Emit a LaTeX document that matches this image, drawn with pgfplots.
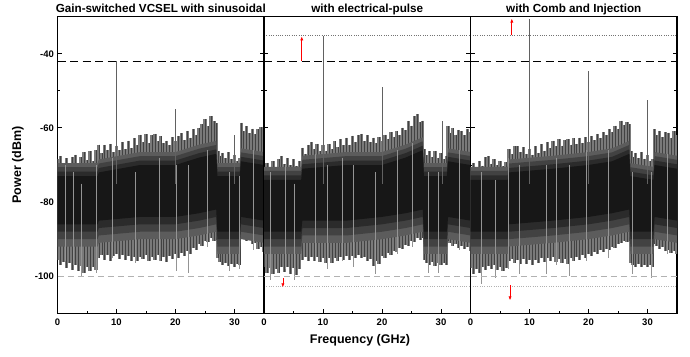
\documentclass[border=0pt]{standalone}
\usepackage{fontspec}
\setmainfont{Liberation Sans}
\usepackage{pgfplots}
\usepackage{pgfplotstable}
\usetikzlibrary{arrows.meta}
\pgfplotsset{compat=1.18}

% ---------- Panel 1: sinusoidal ----------
\pgfplotstableread{
x t b
0.0 -68.5 -95.5
0.5 -67.6 -97.0
1.0 -69.8 -96.2
1.5 -68.2 -97.8
2.0 -70.1 -96.5
2.5 -67.8 -98.2
3.0 -67.2 -97.0
3.5 -69.5 -98.6
4.0 -67.9 -97.2
4.5 -66.6 -99.0
5.0 -68.7 -97.5
5.5 -66.3 -98.7
6.0 -68.9 -97.6
6.5 -66.0 -98.4
7.0 -64.5 -95.0
7.5 -66.8 -94.2
8.0 -64.6 -95.6
8.5 -65.9 -94.4
9.0 -64.3 -96.0
9.5 -66.5 -94.5
10.0 -64.8 -94.0
10.5 -66.0 -95.4
11.0 -63.9 -94.2
11.5 -65.7 -95.7
12.0 -63.4 -94.6
12.5 -65.4 -95.9
13.0 -62.8 -94.7
13.5 -64.6 -96.0
14.0 -61.8 -94.8
14.5 -63.9 -95.3
15.0 -61.7 -94.4
15.5 -64.0 -95.8
16.0 -62.0 -94.9
16.5 -61.6 -95.6
17.0 -63.6 -94.3
17.5 -62.2 -95.9
18.0 -64.2 -94.7
18.5 -63.4 -96.1
19.0 -64.6 -94.6
19.5 -62.5 -95.3
20.0 -63.5 -94.0
20.5 -62.3 -95.0
21.0 -61.4 -93.8
21.5 -63.2 -94.6
22.0 -60.8 -93.2
22.5 -62.6 -93.9
23.0 -60.4 -92.5
23.5 -61.9 -92.9
24.0 -59.9 -91.4
24.5 -58.9 -91.8
25.0 -57.7 -90.6
25.5 -59.6 -90.9
26.0 -56.8 -89.7
26.5 -58.2 -90.5
26.9 -58.8 -90.2
27.2 -66.2 -95.0
27.5 -67.5 -96.2
28.0 -66.7 -97.0
28.5 -68.2 -96.5
29.0 -66.6 -97.2
29.5 -68.4 -96.7
30.0 -67.3 -97.4
30.5 -68.9 -96.8
30.9 -68.0 -97.0
31.2 -58.6 -88.7
31.5 -60.8 -89.8
32.0 -59.5 -90.4
32.5 -61.4 -90.0
33.0 -60.2 -91.3
33.5 -61.6 -91.0
34.0 -60.3 -92.6
34.5 -59.8 -92.1
35.0 -61.0 -93.6
}\bandA
\pgfplotstableread{
x t b
1.3 -70 -96
2.7 -72 -97
4.1 -75 -100
6.6 -70 -99
9.2 -68 -95
13.2 -72 -96.5
17.3 -68 -96
20.1 -70 -98.5
22.1 -70 -99
25.4 -66 -92
29.1 -72 -98.5
30.8 -73 -98
33.2 -66 -93
}\dipA

% ---------- Panel 2: electrical pulse ----------
\pgfplotstableread{
x t b
0.0 -70.5 -97.5
0.5 -69.4 -99.2
1.0 -71.2 -97.8
1.5 -69.0 -99.5
2.0 -70.6 -98.0
2.5 -68.5 -99.0
3.0 -67.6 -97.6
3.5 -69.8 -98.9
4.0 -68.2 -97.4
4.5 -70.0 -99.3
5.0 -68.5 -97.9
5.5 -70.3 -99.6
6.0 -68.9 -98.0
6.5 -65.3 -95.6
7.0 -67.0 -94.8
7.5 -64.6 -96.0
8.0 -63.9 -94.9
8.5 -65.8 -95.8
9.0 -64.3 -94.7
9.5 -66.2 -96.1
10.0 -64.5 -95.2
10.5 -66.3 -96.5
11.0 -64.3 -95.0
11.5 -65.8 -96.4
12.0 -63.6 -95.1
12.5 -65.2 -96.0
13.0 -63.0 -94.8
13.5 -64.7 -95.6
14.0 -62.6 -94.6
14.5 -64.5 -95.7
15.0 -62.1 -94.5
15.5 -63.8 -95.2
16.0 -61.9 -94.3
16.5 -61.6 -95.1
17.0 -63.5 -94.8
17.5 -62.0 -96.0
18.0 -63.9 -95.4
18.5 -62.6 -97.2
19.0 -64.0 -95.9
19.5 -62.5 -96.8
20.0 -63.4 -94.6
20.5 -61.8 -95.0
21.0 -62.9 -93.8
21.5 -61.2 -94.4
22.0 -62.4 -93.2
22.5 -60.8 -93.6
23.0 -61.9 -92.4
23.5 -59.9 -92.7
24.0 -60.6 -91.5
24.5 -58.1 -91.8
25.0 -59.4 -90.6
25.5 -56.9 -90.9
26.0 -56.3 -89.8
26.5 -58.4 -90.2
26.9 -58.0 -89.6
27.2 -65.8 -95.6
27.5 -67.4 -96.4
28.0 -66.3 -97.0
28.5 -67.9 -96.2
29.0 -66.2 -97.3
29.5 -68.0 -96.5
30.0 -66.8 -97.0
30.5 -68.5 -96.4
30.9 -67.5 -96.9
31.2 -59.5 -90.5
31.5 -61.3 -91.0
32.0 -60.1 -91.8
32.5 -61.8 -91.3
33.0 -60.5 -92.3
33.5 -60.8 -91.9
34.0 -62.0 -92.6
34.5 -60.4 -92.2
35.0 -61.2 -93.2
}\bandB
\pgfplotstableread{
x t b
1.0 -72 -101
3.6 -70 -98
5.1 -75 -101
8.7 -67 -96
10.8 -70 -98
13.3 -68 -96
15.2 -70 -97.5
18.8 -72 -99.5
22.6 -66 -94
25.2 -64 -92
27.8 -72 -99
29.5 -72 -99
33.1 -66 -93
}\dipB

% ---------- Panel 3: comb and injection ----------
\pgfplotstableread{
x t b
0.0 -70.6 -97.8
0.5 -69.4 -99.3
1.0 -71.0 -98.0
1.5 -68.9 -99.0
2.0 -70.2 -97.5
2.5 -67.9 -98.4
3.0 -67.6 -97.2
3.5 -69.6 -98.0
4.0 -68.4 -96.9
4.5 -70.1 -98.3
5.0 -68.9 -97.6
5.5 -70.4 -98.6
6.0 -69.2 -97.9
6.5 -65.8 -96.0
7.0 -67.1 -95.4
7.5 -65.0 -96.3
8.0 -64.9 -95.5
8.5 -66.6 -96.6
9.0 -65.2 -95.4
9.5 -67.0 -96.8
10.0 -65.6 -95.6
10.5 -67.2 -96.9
11.0 -65.0 -95.5
11.5 -66.8 -96.5
12.0 -64.4 -95.2
12.5 -66.1 -96.2
13.0 -63.9 -95.0
13.5 -65.5 -95.9
14.0 -63.4 -94.9
14.5 -65.0 -96.1
15.0 -63.1 -95.3
15.5 -64.8 -96.4
16.0 -63.2 -95.4
16.5 -63.0 -96.6
17.0 -64.5 -95.2
17.5 -62.8 -95.8
18.0 -64.3 -94.7
18.5 -62.6 -95.5
19.0 -64.0 -94.4
19.5 -62.5 -95.0
20.0 -63.7 -94.0
20.5 -62.2 -94.5
21.0 -63.3 -93.5
21.5 -61.6 -94.0
22.0 -62.7 -93.0
22.5 -61.2 -93.4
23.0 -62.0 -92.6
23.5 -60.4 -93.0
24.0 -61.1 -92.2
24.5 -59.4 -92.4
25.0 -60.2 -91.3
25.5 -58.0 -91.0
26.0 -59.1 -90.4
26.5 -58.5 -90.8
26.9 -59.0 -90.6
27.2 -66.2 -96.5
27.5 -67.8 -97.0
28.0 -66.7 -97.5
28.5 -68.1 -96.8
29.0 -66.6 -97.6
29.5 -68.3 -97.1
30.0 -67.4 -97.6
30.5 -68.8 -96.9
30.9 -68.4 -97.4
31.2 -60.4 -91.4
31.5 -62.0 -91.9
32.0 -60.8 -92.6
32.5 -62.4 -92.1
33.0 -61.2 -93.1
33.5 -61.3 -92.8
34.0 -62.6 -93.7
34.5 -60.8 -93.2
35.0 -61.9 -94.0
}\bandC
\pgfplotstableread{
x t b
1.9 -72 -102
4.2 -74 -100.5
6.4 -68 -98
8.2 -70 -99.5
12.8 -70 -99.5
14.6 -68 -97
16.8 -70 -100
19.7 -66 -96
23.3 -66 -95
27.5 -72 -99.5
30.7 -72 -100.5
33.4 -67 -94
}\dipC

% vertical segments from t down to b for every row of a table
\newcommand\vlines[3]{%
  \addplot[forget plot, mark=none, draw=#2, line width=#3,
    quiver={u=0, v=\thisrow{b}-\thisrow{t}}]
    table[x=x, y=t]{#1};
}

\pgfplotsset{
  panel/.style={
    scale only axis, width=206.5pt, height=296.6pt,
    xmin=0, xmax=35, ymin=-110, ymax=-30,
    axis line style={line width=1.2pt},
    xtick={0,10,20,30}, xticklabels={0,10,20,30},
    minor xtick={5,15,25},
    ytick={-100,-80,-60,-40},
    minor ytick={-90,-70,-50},
    xtick pos=left, ytick pos=both,
    tick align=inside,
    major tick length=4.3pt, minor tick length=2.8pt,
    tick style={black, line width=0.9pt},
    tick label style={font=\bfseries\fontsize{9.5}{10}\selectfont},
    xticklabel style={yshift=-2pt},
    every axis title shift=0pt,
    title style={font=\bfseries\fontsize{11.7}{13}\selectfont, at={(0.5,1)}, anchor=base, yshift=4.5pt},
  },
  L1/.style={fill=black!64, draw=none, forget plot},
  L2/.style={fill=black!74, draw=none, forget plot},
  L3/.style={fill=black!83, draw=none, forget plot},
  L4/.style={fill=black!91, draw=none, forget plot},
  spike/.style={black!62, line width=0.75pt, forget plot},
  blackdash/.style={black, line width=1.2pt, dash pattern=on 8pt off 4.5pt, forget plot},
  graydash/.style={black!30, line width=0.8pt, dash pattern=on 6pt off 4pt, forget plot},
  dotline/.style={black!55, line width=0.6pt, dash pattern=on 0.8pt off 1.5pt, forget plot},
  lightdot/.style={black!30, line width=0.6pt, dash pattern=on 0.8pt off 1.5pt, forget plot},
  redarrow/.style={red, line width=0.7pt, -{Latex[length=4pt,width=3.2pt]}, forget plot},
}

\begin{document}
\begin{tikzpicture}
\path[use as bounding box] (0,0) rectangle (690pt,356pt);

% Panel 1
\begin{axis}[panel, at={(57.5pt,42.7pt)}, anchor=south west,
  yticklabels={-100,-80,-60,-40},
  title={Gain-switched VCSEL with sinusoidal}]
  \vlines{\bandA}{black!52}{3.3pt}
  \vlines{\bandA}{black!74}{0.45pt}
  \addplot[L1] coordinates {(0,-69.5) (6.8,-69.5) (7,-68.5) (14,-66.5) (20,-66.5) (24,-64.5) (26.9,-63.5) (27.1,-69.5) (30.9,-69.5) (31.1,-65.5) (35,-66.5)
    (35,-91) (31.1,-90) (30.9,-94) (27.1,-94) (26.9,-88) (24,-89) (20,-90) (14,-90) (7,-91) (6.8,-92) (0,-92)};
  \addplot[L2] coordinates {(0,-70.6) (6.8,-70.6) (7,-69.6) (14,-67.6) (20,-67.6) (24,-65.6) (26.9,-64.6) (27.1,-70.6) (30.9,-70.6) (31.1,-66.6) (35,-67.6)
    (35,-89) (31.1,-88) (30.9,-92) (27.1,-92) (26.9,-86) (24,-87) (20,-88) (14,-88) (7,-89) (6.8,-90) (0,-90)};
  \addplot[L3] coordinates {(0,-71.8) (6.8,-71.8) (7,-70.8) (14,-68.8) (20,-68.8) (24,-66.8) (26.9,-65.8) (27.1,-71.8) (30.9,-71.8) (31.1,-67.8) (35,-68.8)
    (35,-87) (31.1,-86) (30.9,-90) (27.1,-90) (26.9,-84) (24,-85) (20,-86) (14,-86) (7,-87) (6.8,-88) (0,-88)};
  \addplot[L4] coordinates {(0,-73) (6.8,-73) (7,-72) (14,-70) (20,-70) (24,-68) (26.9,-67) (27.1,-73) (30.9,-73) (31.1,-69) (35,-70)
    (35,-85) (31.1,-84) (30.9,-88) (27.1,-88) (26.9,-82) (24,-83) (20,-84) (14,-84) (7,-85) (6.8,-86) (0,-86)};
  \vlines{\dipA}{black!42}{0.55pt}
  \addplot[spike] coordinates {(10,-75) (10,-42)};
  \addplot[spike] coordinates {(20,-75) (20,-54.8)};
  \addplot[spike] coordinates {(30,-75) (30,-62)};
  \addplot[blackdash] coordinates {(0,-42) (35,-42)};
  \addplot[graydash] coordinates {(0,-100) (35,-100)};
\end{axis}

% Panel 2
\begin{axis}[panel, at={(264pt,42.7pt)}, anchor=south west,
  yticklabels={},
  title={with electrical-pulse}]
  \vlines{\bandB}{black!52}{3.3pt}
  \vlines{\bandB}{black!74}{0.45pt}
  \addplot[L1] coordinates {(0,-70.5) (6.3,-70.5) (6.5,-67.5) (14,-66.5) (20,-66.5) (24,-64.5) (26.9,-62.5) (27.1,-69.5) (31,-69.5) (31.2,-65.5) (35,-66.5)
    (35,-91) (31.2,-90) (31,-94) (27.1,-94) (26.9,-88) (24,-89) (20,-90) (14,-91) (6.5,-91) (6.3,-94) (0,-94)};
  \addplot[L2] coordinates {(0,-71.6) (6.3,-71.6) (6.5,-68.6) (14,-67.6) (20,-67.6) (24,-65.6) (26.9,-63.6) (27.1,-70.6) (31,-70.6) (31.2,-66.6) (35,-67.6)
    (35,-89) (31.2,-88) (31,-92) (27.1,-92) (26.9,-86) (24,-87) (20,-88) (14,-89) (6.5,-89) (6.3,-92) (0,-92)};
  \addplot[L3] coordinates {(0,-72.8) (6.3,-72.8) (6.5,-69.8) (14,-68.8) (20,-68.8) (24,-66.8) (26.9,-64.8) (27.1,-71.8) (31,-71.8) (31.2,-67.8) (35,-68.8)
    (35,-87) (31.2,-86) (31,-90) (27.1,-90) (26.9,-84) (24,-85) (20,-86) (14,-87) (6.5,-87) (6.3,-90) (0,-90)};
  \addplot[L4] coordinates {(0,-74) (6.3,-74) (6.5,-71) (14,-70) (20,-70) (24,-68) (26.9,-66) (27.1,-73) (31,-73) (31.2,-69) (35,-70)
    (35,-85) (31.2,-84) (31,-88) (27.1,-88) (26.9,-82) (24,-83) (20,-84) (14,-85) (6.5,-85) (6.3,-88) (0,-88)};
  \vlines{\dipB}{black!42}{0.55pt}
  \addplot[spike] coordinates {(10,-75) (10,-35.2)};
  \addplot[spike] coordinates {(20,-75) (20,-49)};
  \addplot[spike] coordinates {(30.2,-75) (30.2,-58)};
  \addplot[blackdash] coordinates {(0,-42) (35,-42)};
  \addplot[graydash] coordinates {(0,-100) (35,-100)};
  \addplot[dotline] coordinates {(0.4,-35) (35,-35)};
  \addplot[lightdot] coordinates {(0.4,-102.6) (35,-102.6)};
  \addplot[redarrow] coordinates {(6.4,-42) (6.4,-35.3)};
  \addplot[redarrow] coordinates {(3.2,-100.6) (3.2,-103)};
\end{axis}

% Panel 3
\begin{axis}[panel, at={(470.5pt,42.7pt)}, anchor=south west,
  yticklabels={},
  title={with Comb and Injection}]
  \vlines{\bandC}{black!52}{3.3pt}
  \vlines{\bandC}{black!74}{0.45pt}
  \addplot[L1] coordinates {(0,-70.5) (6.3,-70.5) (6.5,-68.5) (14,-67.5) (20,-66.5) (24,-65.5) (26.9,-63.5) (27.1,-69.5) (31,-70.5) (31.2,-66.5) (35,-67.5)
    (35,-91) (31.2,-90) (31,-94) (27.1,-94) (26.9,-88) (24,-89) (20,-90) (14,-91) (6.5,-92) (6.3,-94) (0,-94)};
  \addplot[L2] coordinates {(0,-71.6) (6.3,-71.6) (6.5,-69.6) (14,-68.6) (20,-67.6) (24,-66.6) (26.9,-64.6) (27.1,-70.6) (31,-71.6) (31.2,-67.6) (35,-68.6)
    (35,-89) (31.2,-88) (31,-92) (27.1,-92) (26.9,-86) (24,-87) (20,-88) (14,-89) (6.5,-90) (6.3,-92) (0,-92)};
  \addplot[L3] coordinates {(0,-72.8) (6.3,-72.8) (6.5,-70.8) (14,-69.8) (20,-68.8) (24,-67.8) (26.9,-65.8) (27.1,-71.8) (31,-72.8) (31.2,-68.8) (35,-69.8)
    (35,-87) (31.2,-86) (31,-90) (27.1,-90) (26.9,-84) (24,-85) (20,-86) (14,-87) (6.5,-88) (6.3,-90) (0,-90)};
  \addplot[L4] coordinates {(0,-74) (6.3,-74) (6.5,-72) (14,-71) (20,-70) (24,-69) (26.9,-67) (27.1,-73) (31,-74) (31.2,-70) (35,-71)
    (35,-85) (31.2,-84) (31,-88) (27.1,-88) (26.9,-82) (24,-83) (20,-84) (14,-85) (6.5,-86) (6.3,-88) (0,-88)};
  \vlines{\dipC}{black!42}{0.55pt}
  \addplot[spike] coordinates {(10,-75) (10,-30.7)};
  \addplot[spike] coordinates {(20,-75) (20,-44.7)};
  \addplot[spike] coordinates {(30,-75) (30,-52.5)};
  \addplot[blackdash] coordinates {(0,-42) (35,-42)};
  \addplot[graydash] coordinates {(0,-100) (35,-100)};
  \addplot[dotline] coordinates {(0.4,-35) (35,-35)};
  \addplot[lightdot] coordinates {(0.4,-102.6) (35,-102.6)};
  \addplot[redarrow] coordinates {(7.0,-35) (7.0,-30.5)};
  \addplot[redarrow] coordinates {(6.7,-102.5) (6.7,-106.5)};
\end{axis}

\node[rotate=90, font=\bfseries\fontsize{12.5}{14}\selectfont] at (18pt,191pt) {Power (dBm)};
\node[font=\bfseries\fontsize{12.5}{14}\selectfont] at (360pt,16pt) {Frequency (GHz)};
\end{tikzpicture}
\end{document}
